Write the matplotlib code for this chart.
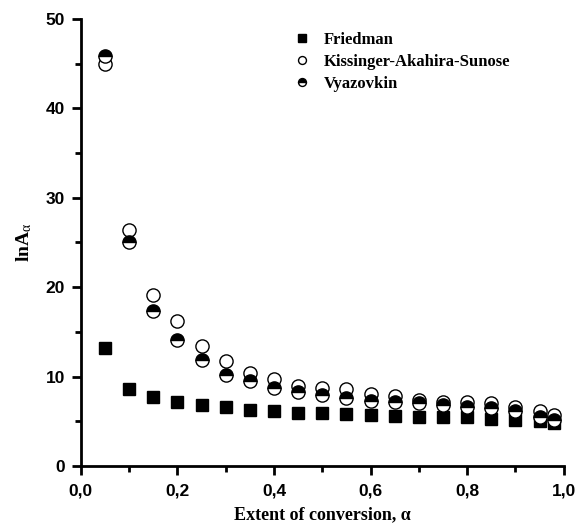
import numpy as np
import matplotlib.pyplot as plt
from matplotlib.ticker import MultipleLocator, FuncFormatter

alpha = [0.05, 0.10, 0.15, 0.20, 0.25, 0.30, 0.35, 0.40, 0.45, 0.50,
         0.55, 0.60, 0.65, 0.70, 0.75, 0.80, 0.85, 0.90, 0.95, 0.98]
friedman = [13.2, 8.6, 7.7, 7.2, 6.8, 6.6, 6.3, 6.2, 5.9, 5.9,
            5.8, 5.7, 5.6, 5.5, 5.5, 5.5, 5.3, 5.2, 5.0, 4.8]
kas = [45.0, 26.4, 19.1, 16.2, 13.4, 11.7, 10.4, 9.7, 8.9, 8.7,
       8.6, 8.1, 7.8, 7.4, 7.2, 7.2, 7.0, 6.6, 6.1, 5.7]
vyazovkin = [45.8, 25.1, 17.3, 14.1, 11.9, 10.2, 9.5, 8.7, 8.3, 7.95,
             7.6, 7.3, 7.2, 7.1, 6.8, 6.6, 6.5, 6.1, 5.5, 5.1]

sans = "Liberation Sans"
serif = "Liberation Serif"

# serif bold for the math label
plt.rcParams["mathtext.fontset"] = "custom"
plt.rcParams["mathtext.rm"] = serif
plt.rcParams["mathtext.bf"] = serif + ":bold"
plt.rcParams["mathtext.it"] = serif + ":italic"

fig = plt.figure(figsize=(5.77, 5.26), dpi=100)
ax = fig.add_axes([0.140, 0.114, 0.837, 0.850])

ax.plot(alpha, friedman, ls="none", marker="s", ms=9, color="black",
        label="Friedman")
ax.plot(alpha, kas, ls="none", marker="o", ms=9.5, mfc="white", mec="black",
        mew=1.0, label="Kissinger-Akahira-Sunose")
ax.plot(alpha, vyazovkin, ls="none", marker="o", ms=9.5, fillstyle="top",
        mfc="black", mfcalt="white", mec="black", mew=1.0, label="Vyazovkin")

ax.set_xlim(0, 1.0)
ax.set_ylim(0, 50)
ax.xaxis.set_major_locator(MultipleLocator(0.2))
ax.xaxis.set_minor_locator(MultipleLocator(0.1))
ax.yaxis.set_major_locator(MultipleLocator(10))
ax.yaxis.set_minor_locator(MultipleLocator(5))
ax.xaxis.set_major_formatter(FuncFormatter(lambda v, p: f"{v:.1f}".replace(".", ",")))

for s in ["top", "right"]:
    ax.spines[s].set_visible(False)
for s in ["left", "bottom"]:
    ax.spines[s].set_linewidth(2.0)

ax.tick_params(which="major", direction="out", length=6.5, width=2.0)
ax.tick_params(which="minor", direction="out", length=4, width=2.0)
ax.tick_params(axis="x", which="major", pad=6)
ax.tick_params(axis="y", which="major", pad=5)
for lab in ax.get_xticklabels() + ax.get_yticklabels():
    lab.set_fontfamily(sans)
    lab.set_fontweight("bold")
    lab.set_fontsize(12.5)

ax.set_xlabel("Extent of conversion, α", fontfamily=serif, fontweight="bold",
              fontsize=13, labelpad=6)
ax.set_ylabel(r"$\mathbf{lnA}_{\mathrm{α}}$", fontfamily=serif, fontsize=14,
              labelpad=8)

leg = ax.legend(loc="upper left", bbox_to_anchor=(0.41, 1.004), frameon=False,
                markerscale=0.6, handlelength=1.0, handletextpad=0.8,
                labelspacing=0.35, prop={"family": serif, "weight": "bold",
                                         "size": 12})

fig.savefig("out.png", dpi=100)
